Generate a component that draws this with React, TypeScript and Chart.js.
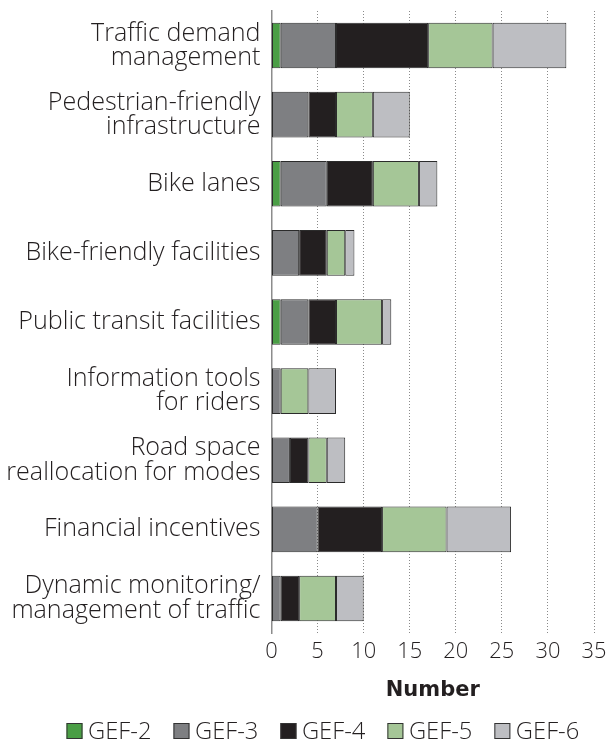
import React, { useEffect, useRef } from "react";
import { Chart, registerables } from "chart.js";

Chart.register(...registerables);

const categories: string[][] = [
  ["Traffic demand", "management"],
  ["Pedestrian-friendly", "infrastructure"],
  ["Bike lanes"],
  ["Bike-friendly facilities"],
  ["Public transit facilities"],
  ["Information tools", "for riders"],
  ["Road space", "reallocation for modes"],
  ["Financial incentives"],
  ["Dynamic monitoring/", "management of traffic"],
];

const seriesNames = ["GEF-2", "GEF-3", "GEF-4", "GEF-5", "GEF-6"];
const gef2 = [1, 0, 1, 0, 1, 0, 0, 0, 0];
const gef3 = [6, 4, 5, 3, 3, 1, 2, 5, 1];
const gef4 = [10, 3, 5, 3, 3, 0, 2, 7, 2];
const gef5 = [7, 4, 5, 2, 5, 3, 2, 7, 4];
const gef6 = [8, 4, 2, 1, 1, 3, 2, 7, 3];
const seriesColors = ["#4a9e45", "#7e7f82", "#231f20", "#a5c697", "#bdbec2"];
const xTicks = [0, 5, 10, 15, 20, 25, 30, 35];

const FONT = "'Open Sans', 'DejaVu Sans', sans-serif";
const TEXT = "#231f20";

// pick a font size so that sample texts span the widths seen in the reference
function fitSize(samples: string[], target: number, weight: string, family: string) {
  const c = document.createElement("canvas").getContext("2d");
  if (!c) return 22;
  c.font = `${weight} 100px ${family}`;
  const w = samples.reduce((acc, s) => acc + c.measureText(s).width, 0);
  return w > 0 ? (100 * target) / w : 22;
}

export default function App() {
  const ref = useRef<HTMLCanvasElement | null>(null);
  useEffect(() => {
    if (!ref.current) return;
    const labelSize = fitSize(["Traffic demand", "reallocation for modes"], 424, "300", FONT);
    const tickSize = fitSize(["10", "35"], 50, "300", FONT);
    const legendSize = fitSize(["GEF-2"], 63.5, "300", FONT);

    const legendPlugin = {
      id: "customLegend",
      afterDraw(chart: any) {
        const ctx = chart.ctx as CanvasRenderingContext2D;
        const box = 16;
        const gapText = 5.5;
        const gapItem = 22;
        const yc = chart.height - 11;
        let x = 58.5;
        ctx.save();
        ctx.font = `300 ${legendSize}px ${FONT}`;
        ctx.textBaseline = "middle";
        ctx.textAlign = "left";
        chart.data.datasets.forEach((ds: any) => {
          ctx.fillStyle = ds.backgroundColor;
          ctx.fillRect(x, yc - box / 2, box, box);
          ctx.strokeStyle = "#333333";
          ctx.lineWidth = 1;
          ctx.strokeRect(x + 0.5, yc - box / 2 + 0.5, box - 1, box - 1);
          ctx.fillStyle = TEXT;
          const tx = x + box + gapText;
          ctx.fillText(ds.label, tx, yc + 1);
          x = tx + ctx.measureText(ds.label).width + gapItem;
        });
        ctx.restore();
      },
    };

    const values = [gef2, gef3, gef4, gef5, gef6];
    const chart = new Chart(ref.current, {
      type: "bar",
      data: {
        labels: categories,
        datasets: seriesNames.map((name, i) => ({
          label: name,
          data: values[i],
          backgroundColor: seriesColors[i],
          borderColor: "#2b2b2b",
          borderWidth: 1,
          borderSkipped: false,
          barPercentage: 0.66,
          categoryPercentage: 1,
        })),
      },
      plugins: [legendPlugin],
      options: {
        indexAxis: "y",
        animation: false,
        responsive: true,
        maintainAspectRatio: false,
        layout: { padding: { top: 3, right: 19, left: 0, bottom: 38.4 } },
        plugins: {
          tooltip: { enabled: false },
          legend: { display: false },
        },
        scales: {
          x: {
            stacked: true,
            min: 0,
            max: 35,
            afterBuildTicks: (s: any) => {
              s.ticks = xTicks.map((v) => ({ value: v }));
            },
            afterFit: (s: any) => {
              s.paddingLeft = 0;
              s.paddingRight = 0;
            },
            grid: { display: true, color: "#8a8a8a", drawTicks: false, lineWidth: 1 },
            border: { display: false, dash: [1, 2] },
            ticks: {
              padding: 6,
              color: TEXT,
              font: { family: FONT, size: tickSize, weight: "300", lineHeight: "26.4px" },
            },
            title: {
              display: true,
              text: "Number",
              color: TEXT,
              padding: { top: 7, bottom: 0 },
              font: { family: "'DejaVu Sans', sans-serif", size: 21, weight: "bold" },
            },
          },
          y: {
            stacked: true,
            afterFit: (s: any) => {
              s.width = 263.5;
              s.paddingTop = 0;
              s.paddingBottom = 0;
            },
            grid: { display: false, drawTicks: false },
            border: { display: true, color: "#8c8c8c", width: 1.5 },
            ticks: {
              padding: 11,
              color: TEXT,
              font: { family: FONT, size: labelSize, weight: "300", lineHeight: "24.4px" },
            },
          },
        },
      },
    });
    return () => chart.destroy();
  }, []);
  return (
    <div style={{ position: "absolute", left: 8, top: 8, width: 605, height: 734 }}>
      <canvas ref={ref} />
    </div>
  );
}
